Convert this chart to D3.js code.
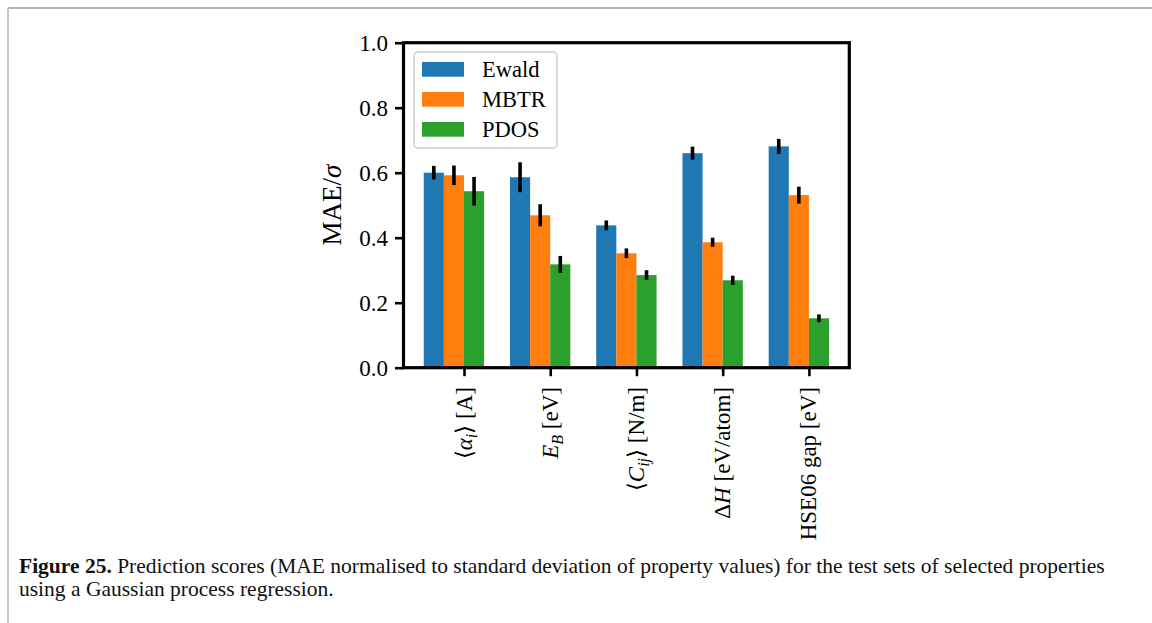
<!DOCTYPE html>
<html>
<head>
<meta charset="utf-8">
<script src="https://cdn.jsdelivr.net/npm/d3@7"></script>
<style>
  html, body { margin: 0; padding: 0; background: #fff; }
  svg { display: block; }
</style>
</head>
<body>
<svg id="fig" width="1152" height="623"></svg>
<script>
// Property categories (one group of bars per property)
const categories = ["alpha", "EB", "Cij", "dH", "gap"];

// Rich-text tick labels: segments with italic / subscript flags
const tickLabels = [
  [{ t: "⟨" }, { t: "α", i: 1 }, { t: "i", i: 1, sub: 1 }, { t: "⟩ [A]" }],
  [{ t: "E", i: 1 }, { t: "B", i: 1, sub: 1 }, { t: " [eV]" }],
  [{ t: "⟨" }, { t: "C", i: 1 }, { t: "ij", i: 1, sub: 1 }, { t: "⟩ [N/m]" }],
  [{ t: "Δ" }, { t: "H", i: 1 }, { t: " [eV/atom]" }],
  [{ t: "HSE06 gap [eV]" }]
];

// Series: MAE / sigma and error-bar half-widths
const seriesNames = ["Ewald", "MBTR", "PDOS"];
const ewald    = [0.600, 0.586, 0.438, 0.660, 0.681];
const ewaldErr = [0.021, 0.046, 0.015, 0.020, 0.023];
const mbtr     = [0.592, 0.469, 0.352, 0.386, 0.531];
const mbtrErr  = [0.030, 0.034, 0.015, 0.014, 0.026];
const pdos     = [0.543, 0.318, 0.285, 0.269, 0.152];
const pdosErr  = [0.044, 0.026, 0.015, 0.014, 0.012];

const yTicks = [0.0, 0.2, 0.4, 0.6, 0.8, 1.0];
const colors = ["#1f77b4", "#ff7f0e", "#2ca02c"];

const series = [
  { name: seriesNames[0], values: ewald, errs: ewaldErr, color: colors[0], k: 0 },
  { name: seriesNames[1], values: mbtr,  errs: mbtrErr,  color: colors[1], k: 1 },
  { name: seriesNames[2], values: pdos,  errs: pdosErr,  color: colors[2], k: 2 }
];

const svg = d3.select("#fig");
const serif = "'Liberation Serif', 'Times New Roman', serif";

// Page frame
svg.append("line").attr("x1", 8).attr("y1", 8).attr("x2", 1152).attr("y2", 8)
  .attr("stroke", "#9a9a9a").attr("stroke-width", 1.6);
svg.append("line").attr("x1", 8).attr("y1", 8).attr("x2", 8).attr("y2", 623)
  .attr("stroke", "#c8c8c8").attr("stroke-width", 2);

// Plot area
const plotL = 403.5, plotR = 849.3, plotT = 42.7, plotB = 367.7;
const w = 0.7 / 3;          // bar width in category units
const n = categories.length;
const dataMin = -2 * w, dataMax = (n - 1) + w;
const pad = 0.05 * (dataMax - dataMin);

const x = d3.scaleLinear().domain([dataMin - pad, dataMax + pad]).range([plotL, plotR]);
const y = d3.scaleLinear().domain([0, 1]).range([plotB, plotT]);

// bar left edge offsets relative to category position
const offset = k => (k - 2) * w;

const g = svg.append("g");

// Bars
series.forEach(s => {
  g.selectAll(null).data(s.values).enter().append("rect")
    .attr("x", (d, i) => x(i + offset(s.k)))
    .attr("width", x(w) - x(0))
    .attr("y", d => y(d))
    .attr("height", d => y(0) - y(d))
    .attr("fill", s.color);
});

// Error bars
series.forEach(s => {
  g.selectAll(null).data(s.values).enter().append("line")
    .attr("x1", (d, i) => x(i + offset(s.k) + w / 2))
    .attr("x2", (d, i) => x(i + offset(s.k) + w / 2))
    .attr("y1", (d, i) => y(d - s.errs[i]))
    .attr("y2", (d, i) => y(d + s.errs[i]))
    .attr("stroke", "#000").attr("stroke-width", 3.6);
});

// Y axis
const yAxis = d3.axisLeft(y).tickValues(yTicks).tickFormat(d3.format(".1f")).tickSize(8.5).tickPadding(7);
const ya = svg.append("g").attr("transform", `translate(${plotL},0)`).call(yAxis);
ya.select(".domain").remove();
ya.selectAll(".tick line").attr("stroke", "#000").attr("stroke-width", 2.6);
ya.selectAll(".tick text").attr("font-family", serif).attr("font-size", 23).attr("fill", "#000");

// X axis ticks (labels drawn separately as rich text)
const xAxis = d3.axisBottom(x).tickValues(d3.range(n)).tickFormat("").tickSize(8.5);
const xa = svg.append("g").attr("transform", `translate(0,${plotB})`).call(xAxis);
xa.select(".domain").remove();
xa.selectAll(".tick line").attr("stroke", "#000").attr("stroke-width", 2.6);

tickLabels.forEach((segs, i) => {
  const t = svg.append("text")
    .attr("transform", `translate(${x(i)},387) rotate(-90)`)
    .attr("text-anchor", "end")
    .attr("font-family", serif).attr("font-size", 23).attr("fill", "#000");
  let shifted = false;
  segs.forEach((s, j) => {
    const ts = t.append("tspan").text(s.t);
    let dy = 0;
    if (j === 0) dy += 7.5;
    if (s.sub && !shifted) { dy += 5; shifted = true; }
    if (!s.sub && shifted) { dy -= 5; shifted = false; }
    if (dy) ts.attr("dy", dy);
    if (s.i) ts.attr("font-style", "italic");
    if (s.sub) ts.attr("font-size", 16);
  });
});

// Spines
const spine = svg.append("g").attr("fill", "none").attr("stroke", "#000").attr("stroke-width", 3.2);
spine.append("rect").attr("x", plotL).attr("y", plotT).attr("width", plotR - plotL).attr("height", plotB - plotT);

// Y axis label
const yl = svg.append("text")
  .attr("transform", `translate(341,${(plotT + plotB) / 2}) rotate(-90)`)
  .attr("text-anchor", "middle")
  .attr("font-family", serif).attr("font-size", 27).attr("fill", "#000");
yl.append("tspan").text("MAE/");
yl.append("tspan").text("σ").attr("font-style", "italic");

// Legend
const lg = svg.append("g");
lg.append("rect").attr("x", 414).attr("y", 52).attr("width", 143).attr("height", 96)
  .attr("rx", 4).attr("fill", "#fff").attr("fill-opacity", 0.8)
  .attr("stroke", "#cccccc").attr("stroke-width", 1.5);
series.forEach((s, k) => {
  const yy = 62 + k * 30;
  lg.append("rect").attr("x", 422).attr("y", yy).attr("width", 42).attr("height", 14.7).attr("fill", s.color);
  lg.append("text").attr("x", 482).attr("y", yy + 14.5)
    .attr("font-family", serif).attr("font-size", 22.5).attr("fill", "#000").text(s.name);
});

// Caption
const capLines = [
  [{ t: "Figure 25.", b: 1 }, { t: " Prediction scores (MAE normalised to standard deviation of property values) for the test sets of selected properties" }],
  [{ t: "using a Gaussian process regression." }]
];
const cap = svg.append("g").attr("font-family", serif).attr("font-size", 21.5).attr("fill", "#111");
capLines.forEach((segs, li) => {
  const t = cap.append("text").attr("x", 19).attr("y", 573 + li * 23.3);
  segs.forEach(s => {
    const ts = t.append("tspan").text(s.t);
    if (s.b) ts.attr("font-weight", "bold");
  });
});
</script>
</body>
</html>
